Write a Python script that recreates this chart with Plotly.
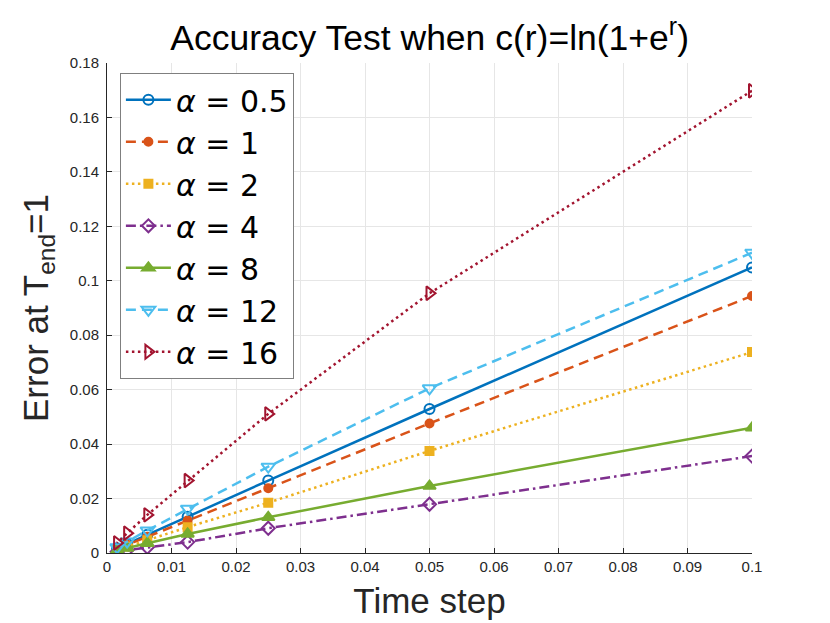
import plotly.graph_objects as go

# time steps and errors at T_end = 1
time_step = [0.1, 0.05, 0.025, 0.0125, 0.00625, 0.003125, 0.0015625]

alpha_labels = ['0.5', '1', '2', '4', '8', '12', '16']

err_a05 = [0.1049, 0.0529, 0.0266, 0.0133, 0.0067, 0.0034, 0.0017]
err_a1 = [0.0944, 0.0476, 0.0238, 0.0119, 0.0060, 0.0030, 0.0015]
err_a2 = [0.0738, 0.0375, 0.0185, 0.0095, 0.0047, 0.0024, 0.0012]
err_a4 = [0.0356, 0.0179, 0.0091, 0.0040, 0.0021, 0.0011, 0.0005]
err_a8 = [0.0460, 0.0246, 0.0131, 0.0070, 0.0036, 0.0018, 0.0009]
err_a12 = [0.1103, 0.0605, 0.0317, 0.0163, 0.0083, 0.0042, 0.0021]
err_a16 = [0.1698, 0.0954, 0.0511, 0.0266, 0.0140, 0.0073, 0.0037]

series = [err_a05, err_a1, err_a2, err_a4, err_a8, err_a12, err_a16]

# MATLAB default colour order and line specs
colors = ['#0072BD', '#D95319', '#EDB120', '#7E2F8E', '#77AC30', '#4DBEEE', '#A2142F']
solid = 'solid'
dashed = '10px,6px'
dotted = '2.5px,3.5px'
dashdot = '10px,4px,2.5px,4px'
dashes = [solid, dashed, dotted, dashdot, solid, dashed, dotted]
symbols = ['circle-open', 'circle', 'square', 'diamond-open',
           'triangle-up', 'triangle-down-open', 'triangle-right-open']
sizes = [10, 8, 8, 10, 11, 12, 12]

fig = go.Figure()

for i, vals in enumerate(series):
    name = '<i>α</i> = ' + alpha_labels[i]
    fig.add_trace(
        go.Scatter(
            x=time_step,
            y=vals,
            name=name,
            mode='lines+markers',
            line=dict(color=colors[i], width=2.5, dash=dashes[i]),
            marker=dict(symbol=symbols[i], size=sizes[i], color=colors[i],
                        line=dict(color=colors[i], width=2))
        )
    )

fig.update_layout(
    width=830,
    height=623,
    margin=dict(l=99, r=86, t=55, b=78),
    paper_bgcolor='white',
    plot_bgcolor='white',
    font=dict(family='Liberation Sans, Arial', size=15, color='#262626'),
    title=dict(
        text='Accuracy Test when c(r)=ln(1+e<sup>r</sup>)',
        x=0.508, xanchor='center',
        y=0.952, yanchor='middle',
        font=dict(size=35.5, color='black')
    ),
    legend=dict(
        x=0.02, y=0.98, xanchor='left', yanchor='top',
        bgcolor='white',
        bordercolor='#7f7f7f',
        borderwidth=1,
        font=dict(family='DejaVu Sans', size=30, color='black'),
        itemwidth=45,
        tracegroupgap=0
    ),
    showlegend=True
)

fig.update_xaxes(
    title=dict(text='Time step', font=dict(size=35, color='#262626'), standoff=14),
    range=[0, 0.1],
    dtick=0.01,
    showgrid=True,
    gridcolor='#e6e6e6',
    gridwidth=1,
    zeroline=False,
    showline=True,
    linecolor='#262626',
    linewidth=1,
    ticks='inside',
    ticklen=5,
    tickcolor='#262626'
)

fig.update_yaxes(
    title=dict(text='Error at T<sub>end</sub>=1', font=dict(size=35, color='#262626'), standoff=10),
    range=[0, 0.18],
    dtick=0.02,
    showgrid=True,
    gridcolor='#e6e6e6',
    gridwidth=1,
    zeroline=False,
    showline=True,
    linecolor='#262626',
    linewidth=1,
    ticks='inside',
    ticklen=5,
    tickcolor='#262626',
    ticklabelstandoff=4
)

fig.write_html('out.html')
